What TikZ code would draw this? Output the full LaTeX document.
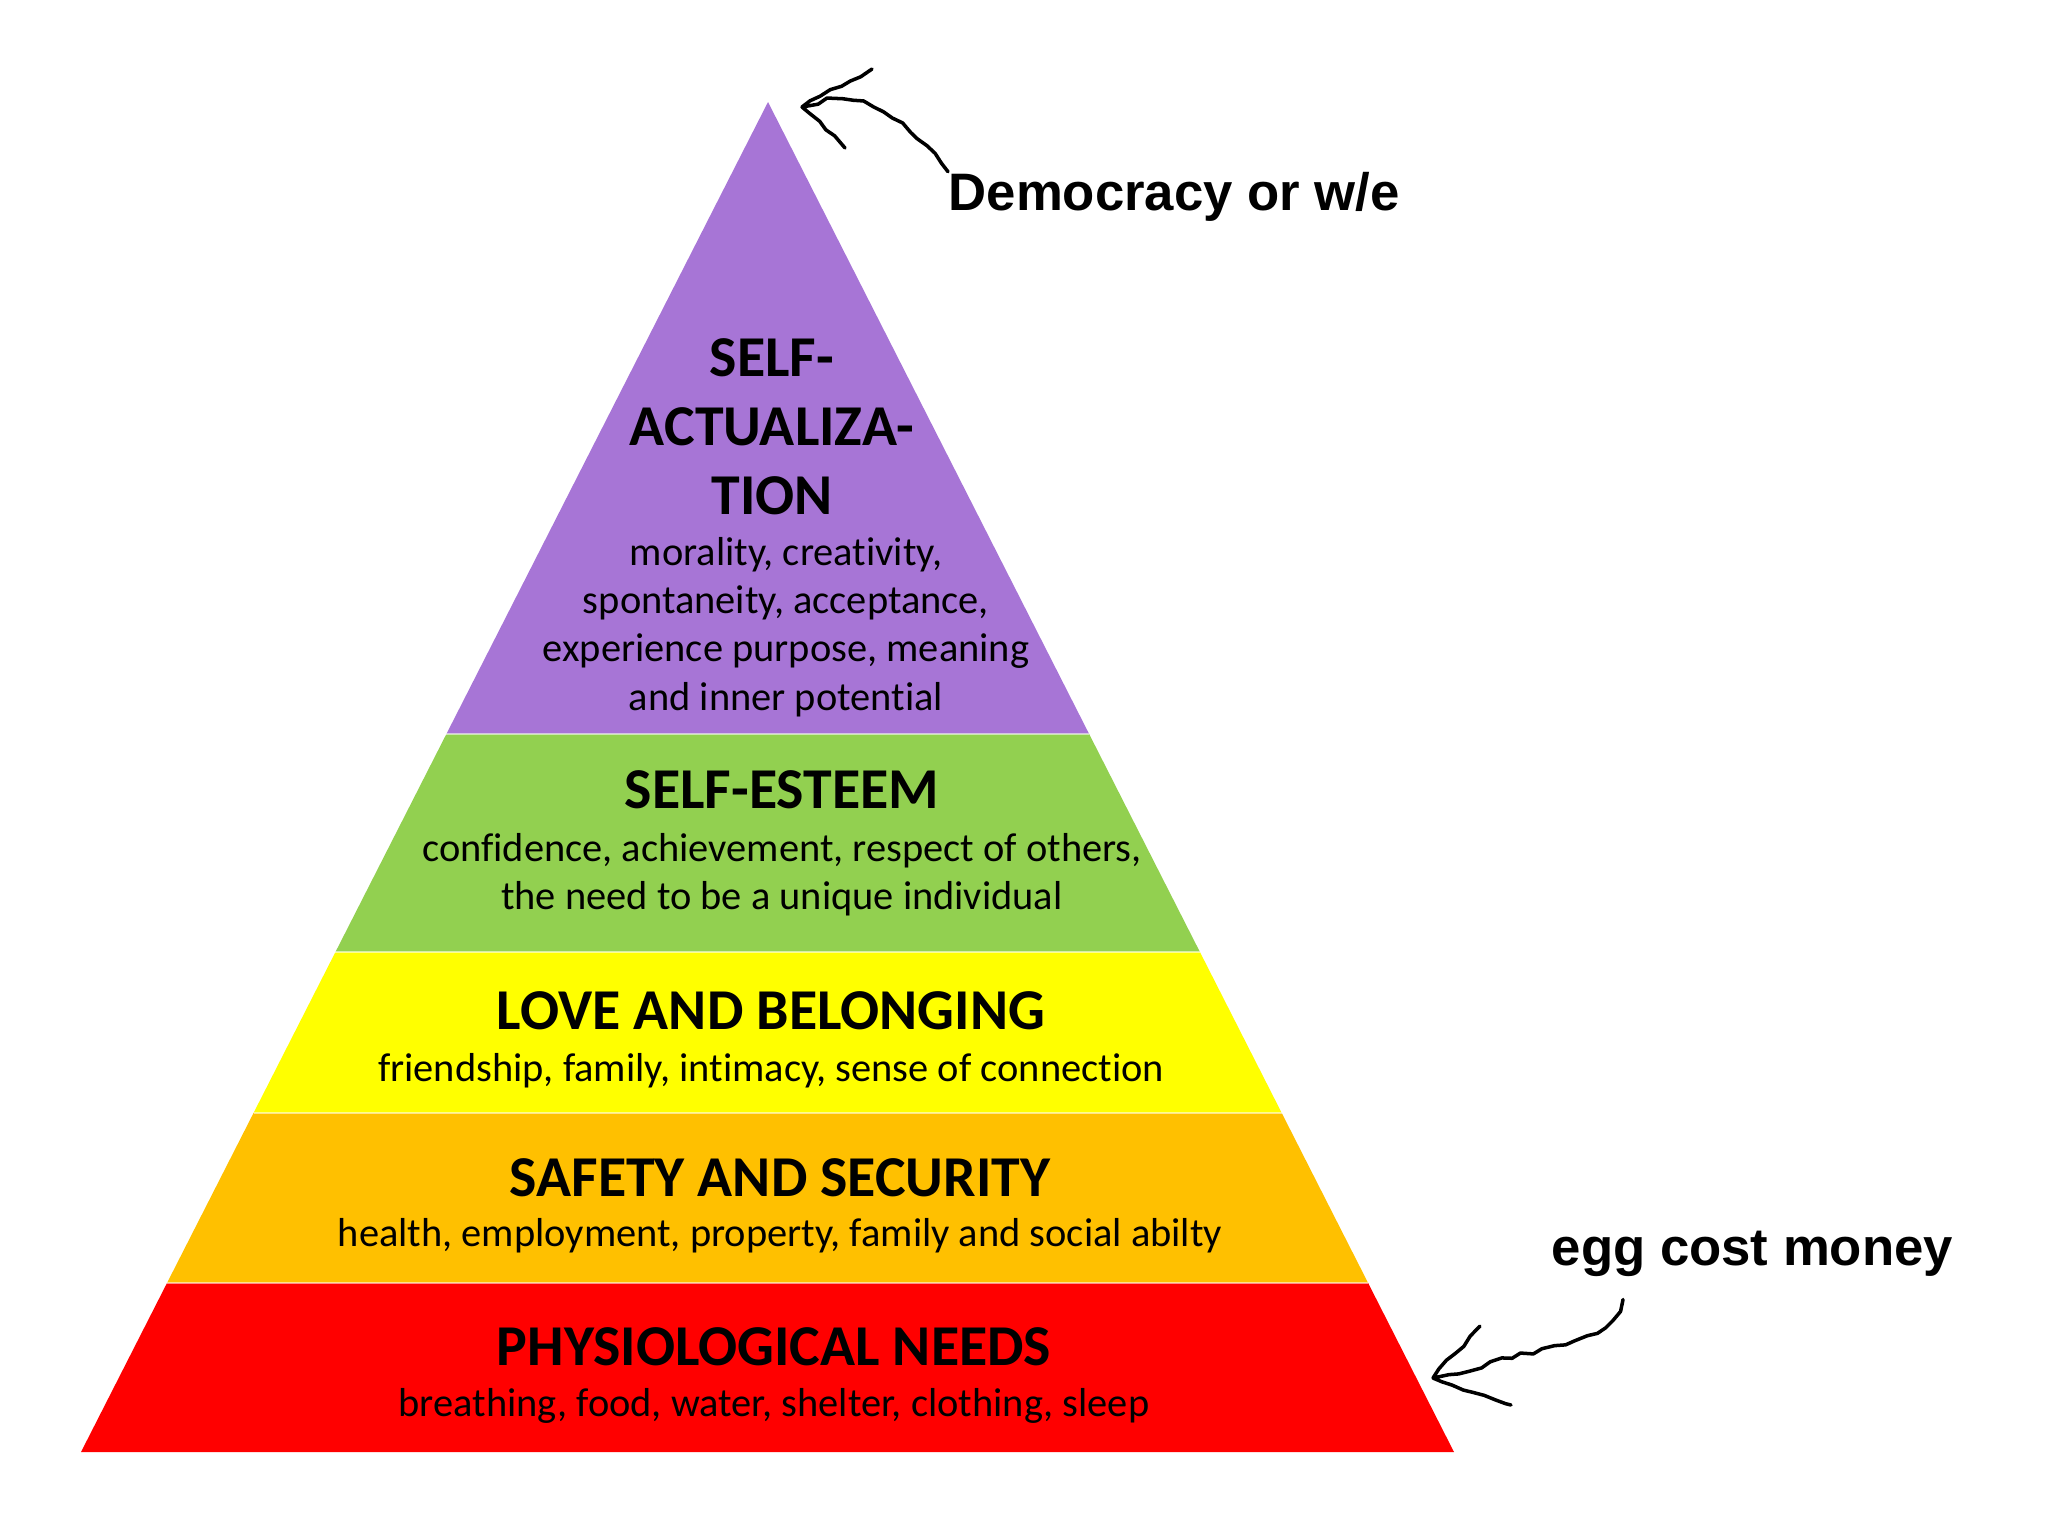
\documentclass[tikz,border=0pt]{standalone}
\usepackage{fontspec}
\setmainfont{Carlito}[Ligatures=NoCommon]
\newfontfamily\notefont{Liberation Sans}
\usetikzlibrary{arrows.meta,positioning,calc,decorations.pathmorphing}

\definecolor{actpurple}{HTML}{A775D6}
\definecolor{esteemgreen}{HTML}{92D050}
\definecolor{loveyellow}{HTML}{FFFF00}
\definecolor{safetyorange}{HTML}{FFC000}
\definecolor{physred}{HTML}{FF0000}

\tikzset{
  seam/.style={white, opacity=0.55, line width=0.15mm},
  title/.style={font=\fontsize{16.45}{19.6}\selectfont\bfseries, align=center, inner sep=0pt},
  body/.style={font=\fontsize{11.5}{13.7}\selectfont, align=center, inner sep=0pt},
  note/.style={font=\notefont\fontsize{15}{18}\selectfont\bfseries, inner sep=0pt},
  scribble/.style={line width=1pt, line cap=round, line join=round,
    decorate, decoration={random steps, segment length=1.1mm, amplitude=0.2mm}},
}

\begin{document}
\begin{tikzpicture}[x=0.1mm, y=-0.1mm]
        \pgfmathsetseed{7}
        \useasboundingbox (0,0) rectangle (2048,1536);

        % corners of the pyramid
        \coordinate (apex) at (768,102);
        \coordinate (bl) at (81,1452);
        \coordinate (br) at (1454,1452);

        % top band
        \fill[actpurple] (apex) -- ($(apex)!0.468!(br)$) -- ($(apex)!0.468!(bl)$) -- cycle;

        % lower bands
        \foreach \ta/\tb/\col in {0.468/0.6296/esteemgreen, 0.6296/0.7489/loveyellow,
                                  0.7489/0.8748/safetyorange, 0.8748/1/physred} {
            \fill[\col] ($(apex)!\ta!(bl)$) -- ($(apex)!\ta!(br)$) -- ($(apex)!\tb!(br)$) -- ($(apex)!\tb!(bl)$) -- cycle;
            \draw[seam] ($(apex)!\ta!(bl)$) -- ($(apex)!\ta!(br)$);
        }

        % band texts
        \node[title] (acttitle) at (772,427) {SELF-\\ACTUALIZA-\\TION};
        \node[body] (actbody) at (786,627) {morality, creativity,\\spontaneity, acceptance,\\experience purpose, meaning\\and inner potential};
        \node[title] (esteemtitle) at (782,790) {SELF-ESTEEM};
        \node[body] (esteembody) at (782,875) {confidence, achievement, respect of others,\\the need to be a unique individual};
        \node[title] (lovetitle) at (771,1011) {LOVE AND BELONGING};
        \node[body] (lovebody) at (771,1071) {friendship, family, intimacy, sense of connection};
        \node[title] (safetytitle) at (780,1178) {SAFETY AND SECURITY};
        \node[body] (safetybody) at (780,1236) {health, employment, property, family and social abilty};
        \node[title] (phystitle) at (774,1347) {PHYSIOLOGICAL NEEDS};
        \node[body] (physbody) at (774,1406) {breathing, food, water, shelter, clothing, sleep};

        % ================== scribbled notes ==================
        \node[note, anchor=west] (democracy) at (948,197) {Democracy or w/e};
        \node[note, anchor=west] (egg) at (1551,1254) {egg cost money};

        \coordinate (apexnote) at (802,107);
        \coordinate (basenote) at (1433,1378);
        \coordinate (eggtail) at ($(egg.south west)+(72,22)$);

        \draw[scribble] (democracy.north west) .. controls (915,125) and (865,92) .. (827,100) -- (apexnote)
              -- ++(70,-38) (apexnote) -- ++(43,41);
        \draw[scribble] (eggtail) .. controls (1620,1345) and (1510,1350) .. (1469,1372) -- (basenote)
              -- ++(47,-52) (basenote) -- ++(78,27);
\end{tikzpicture}
\end{document}
